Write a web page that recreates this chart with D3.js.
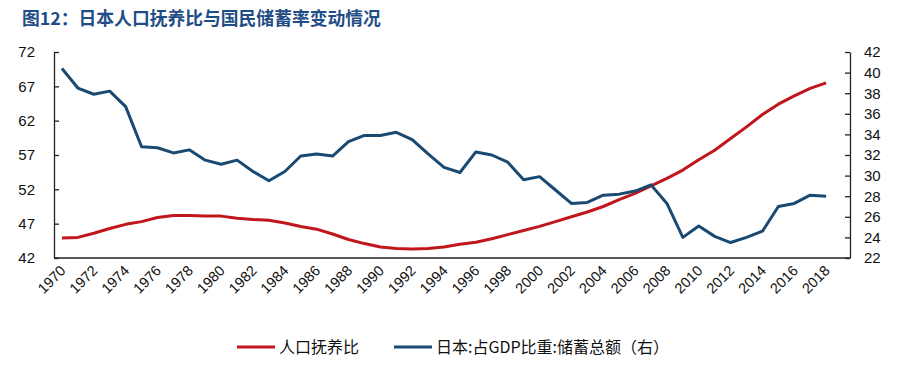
<!DOCTYPE html>
<html><head><meta charset="utf-8">
<script src="https://cdn.jsdelivr.net/npm/d3@7"></script>
<style>body{margin:0;background:#fff}svg{display:block}</style>
</head><body>
<script>
const years = d3.range(1970, 2020);
const dependencyRatio = [44.9,45.0,45.6,46.3,46.9,47.3,47.9,48.2,48.2,48.1,48.1,47.8,47.6,47.5,47.1,46.6,46.2,45.5,44.7,44.1,43.6,43.4,43.3,43.4,43.6,44.0,44.3,44.8,45.4,46.0,46.6,47.3,48.0,48.7,49.5,50.5,51.4,52.5,53.6,54.8,56.3,57.7,59.4,61.1,62.9,64.4,65.6,66.7,67.5];
const savingsGDP = [40.4,38.5,37.9,38.2,36.7,32.8,32.7,32.2,32.5,31.5,31.1,31.5,30.4,29.5,30.4,31.9,32.1,31.9,33.3,33.9,33.9,34.2,33.5,32.1,30.8,30.3,32.3,32.0,31.3,29.6,29.9,28.6,27.3,27.4,28.1,28.2,28.5,29.1,27.3,24.0,25.1,24.1,23.5,24.0,24.6,27.0,27.3,28.1,28.0];
const leftTicks = [42,47,52,57,62,67,72];
const rightTicks = [22,24,26,28,30,32,34,36,38,40,42];
const xLabels = d3.range(1970, 2019, 2);
const title = "图12：日本人口抚养比与国民储蓄率变动情况";
const legendNames = ["人口抚养比", "日本:占GDP比重:储蓄总额（右）"];
const colors = ["#C0161C", "#1A4A72"];

const W = 898, H = 365;
const L = 54, R = 850, T = 52, B = 258;
const svg = d3.select("body").append("svg").attr("width", W).attr("height", H);
const font = "'Liberation Sans', Arial, sans-serif";

svg.append("text").attr("x", 22).attr("y", 25).text(title)
  .attr("font-family", "'Noto Sans CJK SC', sans-serif").attr("font-weight", "bold")
  .attr("font-size", 17.8).attr("fill", "#1F4E86");

const x = d3.scaleBand().domain(years).range([L, R]);
const xc = d => x(d) + x.bandwidth() / 2;
const yL = d3.scaleLinear().domain([42, 72]).range([B, T]);
const yR = d3.scaleLinear().domain([22, 42]).range([B, T]);

// axes
const axL = svg.append("g").attr("transform", `translate(${L},0)`)
  .call(d3.axisLeft(yL).tickValues(leftTicks).tickSizeInner(-5).tickSizeOuter(0).tickPadding(19));
const axR = svg.append("g").attr("transform", `translate(${R},0)`)
  .call(d3.axisRight(yR).tickValues(rightTicks).tickSizeInner(-5).tickSizeOuter(0).tickPadding(14));
const axB = svg.append("g").attr("transform", `translate(0,${B})`)
  .call(d3.axisBottom(x).tickValues(xLabels).tickSize(0).tickPadding(0));
[axL, axR, axB].forEach(a => {
  a.selectAll("path,line").attr("stroke", "#222").attr("stroke-width", 1.3);
  a.selectAll("text").attr("font-family", font).attr("font-size", 15).attr("fill", "#111");
});
axB.select(".domain").attr("d", `M${L},0H${R}`);
axB.selectAll("text").attr("font-size", 14.5)
  .attr("text-anchor", "end").attr("y", 0).attr("dy", "0.35em")
  .attr("transform", "translate(1,10) rotate(-45)");

// lines
const lineL = d3.line().x((d, i) => xc(years[i])).y(d => yL(d));
const lineR = d3.line().x((d, i) => xc(years[i])).y(d => yR(d));
svg.append("path").datum(dependencyRatio).attr("d", lineL)
  .attr("fill", "none").attr("stroke", colors[0]).attr("stroke-width", 3).attr("stroke-linejoin", "round");
svg.append("path").datum(savingsGDP).attr("d", lineR)
  .attr("fill", "none").attr("stroke", colors[1]).attr("stroke-width", 3).attr("stroke-linejoin", "round");

// legend
const lg = [{x: 237, name: legendNames[0], c: colors[0]}, {x: 394, name: legendNames[1], c: colors[1]}];
lg.forEach(d => {
  svg.append("line").attr("x1", d.x).attr("x2", d.x + 38).attr("y1", 347).attr("y2", 347)
    .attr("stroke", d.c).attr("stroke-width", 3);
  svg.append("text").attr("x", d.x + 42).attr("y", 353).text(d.name)
    .attr("font-family", "'Noto Sans CJK SC', sans-serif").attr("font-size", 16).attr("fill", "#111");
});
</script>
</body></html>
